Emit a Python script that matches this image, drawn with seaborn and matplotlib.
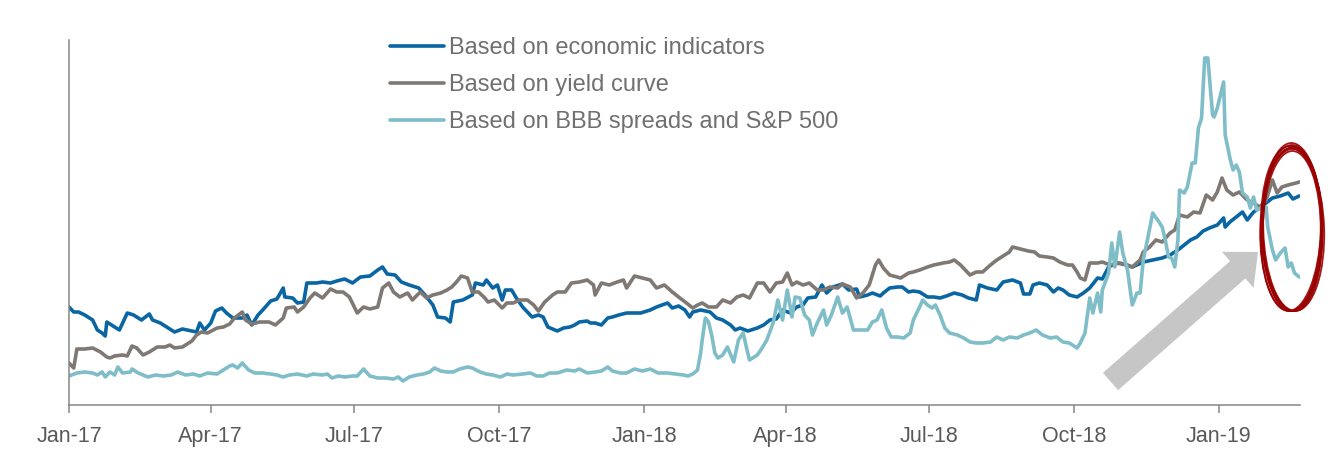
import numpy as np
import pandas as pd
import matplotlib
matplotlib.use("Agg")
import matplotlib.pyplot as plt
import matplotlib.dates as mdates
from matplotlib.patches import FancyArrow, Ellipse
from matplotlib.transforms import IdentityTransform
import seaborn as sns

# ---- data: recession-probability style indices (days since 2017-01-01, index level) ----
START = pd.Timestamp("2017-01-01")

econ_day = [0, 3, 6, 10, 15, 18, 21, 23, 24, 28, 32, 37, 41, 46, 51, 53, 58, 62, 67, 72, 78, 81, 83, 86, 90,
            93, 97, 100, 104, 110, 113, 116, 120, 123, 128, 132, 136, 137, 142, 145, 149, 151, 157, 161, 166,
            170, 175, 180, 185, 191, 196, 199, 202, 207, 211, 216, 222, 226, 231, 234, 239, 242, 244, 250, 256,
            258, 263, 265, 269, 272, 275, 277, 281, 284, 288, 291, 294, 298, 301, 304, 310, 314, 318, 321, 324,
            329, 331, 334, 338, 342, 345, 349, 354, 358, 363, 369, 373, 380, 383, 387, 391, 394, 396, 401, 407,
            411, 415, 420, 423, 426, 431, 437, 441, 445, 449, 453, 458, 462, 466, 469, 474, 478, 481, 485, 491,
            495, 500, 502, 507, 510, 515, 517, 521, 526, 529, 533, 536, 540, 545, 549, 553, 557, 562, 567, 571,
            576, 578, 583, 589, 593, 599, 604, 606, 610, 612, 616, 621, 625, 628, 631, 635, 640, 644, 648, 653,
            656, 660, 665, 669, 675, 682, 688, 694, 699, 704, 708, 712, 716, 720, 724, 729, 733, 734, 737, 741,
            745, 748, 752, 756, 760, 764, 769, 774, 777, 781]
econ_val = [98, 93, 93, 90, 85, 75, 72, 69, 83, 79, 75, 92, 90, 85, 91, 85, 82, 78, 73, 76, 74, 73, 82, 75, 82,
            94, 97, 92, 87, 87, 90, 80, 90, 95, 104, 106, 117, 108, 107, 102, 103, 122, 122, 123, 122,
            124, 126, 122, 128, 129, 135, 138, 131, 130, 123, 120, 117, 110, 100, 88, 87, 83, 103, 105, 110,
            122, 120, 125, 117, 120, 105, 115, 115, 107, 98, 93, 88, 90, 88, 78, 74, 77, 78, 80, 83,
            84, 82, 82, 80, 87, 88, 90, 92, 92, 92, 95, 98, 102, 97, 99, 95, 88, 93, 95, 93,
            87, 85, 80, 75, 77, 74, 77, 80, 85, 86, 95, 92, 98, 100, 107, 108, 120, 112, 118, 121,
            115, 116, 108, 110, 112, 109, 112, 117, 118, 118, 113, 114, 113, 108, 108, 107, 109, 112, 110, 107,
            105, 120, 117, 115, 123, 125, 122, 111, 111, 120, 122, 120, 113, 117, 115, 110, 108, 112, 117, 127,
            126, 138, 142, 141, 138, 143, 145, 147, 150, 155, 160, 165, 168, 174, 177, 180, 187, 178, 183, 188,
            193, 185, 193, 197, 202, 207, 209, 212, 206, 209]

yield_day = [0, 3, 5, 10, 15, 20, 24, 26, 29, 34, 37, 40, 43, 47, 51, 56, 61, 64, 67, 72, 78, 81, 84, 88, 94,
             98, 102, 105, 110, 112, 116, 121, 127, 131, 136, 138, 143, 145, 149, 153, 156, 161, 166, 170, 174,
             178, 183, 187, 191, 196, 199, 203, 206, 210, 215, 218, 223, 227, 231, 236, 240, 243, 246, 249, 253,
             256, 260, 264, 266, 270, 275, 278, 282, 286, 291, 295, 298, 302, 307, 310, 315, 319, 324, 329, 333,
             334, 338, 343, 348, 352, 354, 359, 364, 369, 373, 378, 383, 387, 392, 396, 399, 402, 406, 411, 415,
             420, 424, 428, 432, 437, 441, 445, 449, 453, 456, 459, 462, 466, 470, 475, 479, 483, 488, 491, 496,
             500, 504, 508, 512, 514, 517, 521, 528, 533, 536, 540, 545, 549, 555, 559, 562, 566, 569, 572, 576,
             580, 585, 589, 593, 597, 599, 604, 609, 613, 616, 621, 625, 629, 634, 637, 640, 642, 645, 648, 653,
             656, 661, 667, 672, 675, 680, 682, 686, 690, 694, 699, 702, 705, 710, 714, 718, 722, 726, 729, 732,
             735, 739, 743, 748, 752, 756, 760, 764, 767, 770, 774, 779, 781]
yield_val = [42, 37, 56, 56, 57, 53, 48, 47, 49, 50, 49, 59, 57, 50, 53, 58, 58, 60, 57, 58, 64, 70, 73, 72, 77,
             78, 81, 87, 93, 85, 81, 83, 83, 80, 87, 97, 98, 93, 98, 107, 112, 107, 116, 113, 113,
             108, 92, 98, 96, 98, 117, 122, 113, 108, 112, 105, 113, 107, 110, 112, 115, 118, 123, 129, 127,
             113, 113, 107, 103, 105, 97, 102, 102, 105, 105, 100, 94, 103, 110, 113, 113, 122, 123, 125, 120,
             110, 122, 120, 123, 125, 117, 129, 127, 125, 117, 120, 113, 108, 102, 97, 100, 102, 98, 98, 105,
             102, 108, 110, 107, 122, 122, 113, 122, 123, 132, 120, 123, 120, 122, 115, 115, 118, 117, 121, 118,
             107, 112, 120, 140, 145, 137, 130, 127, 132, 133, 135, 138, 140, 142, 143, 145, 140, 135, 130, 133,
             133, 140, 145, 149, 153, 158, 156, 154, 153, 149, 148, 147, 143, 140, 140, 133, 127, 125, 142, 142,
             143, 140, 142, 140, 138, 145, 153, 158, 165, 163, 172, 175, 190, 188, 193, 192, 210, 205, 213, 227,
             215, 210, 213, 205, 202, 198, 205, 225, 212, 218, 220, 222, 223]

bbb_day = [0, 5, 10, 15, 18, 21, 23, 26, 29, 31, 34, 39, 40, 44, 50, 55, 60, 65, 69, 74, 79, 83, 88, 94, 98,
           102, 104, 107, 110, 114, 118, 123, 128, 132, 136, 140, 145, 151, 155, 161, 164, 167, 171, 175, 180,
           183, 187, 191, 196, 201, 206, 209, 212, 216, 221, 225, 229, 232, 236, 240, 244, 248, 253, 256, 261,
           265, 269, 274, 278, 282, 288, 293, 297, 301, 305, 310, 316, 321, 324, 329, 334, 338, 342, 345, 350,
           354, 359, 364, 369, 374, 380, 385, 390, 393, 396, 399, 401, 402, 404, 406, 408, 410, 412, 415, 418,
           422, 425, 428, 430, 432, 437, 440, 443, 447, 450, 453, 456, 459, 461, 464, 467, 470, 472, 475, 479,
           481, 484, 488, 491, 494, 498, 502, 507, 510, 513, 516, 519, 522, 526, 530, 534, 536, 540, 542, 545,
           548, 550, 553, 556, 559, 564, 568, 572, 576, 580, 585, 589, 593, 597, 602, 606, 610, 614, 618, 623,
           627, 631, 635, 640, 642, 645, 648, 650, 653, 655, 656, 660, 662, 664, 667, 669, 672, 675, 678, 680,
           682, 685, 688, 692, 694, 696, 698, 700, 702, 704, 705, 708, 710, 713, 715, 717, 719, 721, 723, 726,
           727, 729, 733, 734, 737, 739, 741, 743, 745, 748, 750, 752, 754, 758, 760, 761, 764, 766, 769, 772,
           774, 776, 778, 781]
bbb_val = [29, 32, 33, 32, 30, 33, 28, 33, 30, 38, 32, 33, 36, 32, 28, 30, 29, 30, 33, 30, 31, 29, 32, 31, 35,
           39, 40, 37, 42, 35, 32, 32, 31, 30, 28, 30, 31, 29, 31, 30, 31, 27, 29, 28, 29,
           29, 36, 29, 27, 27, 26, 28, 24, 28, 30, 31, 33, 37, 34, 33, 33, 36, 38, 37, 33,
           31, 30, 28, 31, 30, 31, 32, 29, 29, 32, 32, 35, 34, 36, 32, 33, 34, 38, 34, 32,
           32, 36, 34, 36, 32, 32, 31, 30, 29, 31, 35, 52, 65, 87, 83, 70, 52, 47, 50, 58,
           43, 65, 72, 58, 45, 50, 57, 65, 82, 105, 85, 115, 88, 108, 107, 90, 85, 70, 82, 95,
           80, 90, 108, 92, 98, 75, 75, 75, 83, 85, 95, 77, 68, 68, 67, 72, 85, 98, 105, 100,
           97, 100, 90, 77, 72, 70, 67, 63, 62, 62, 63, 68, 65, 68, 67, 70, 72, 75, 70, 67,
           68, 63, 62, 57, 62, 72, 107, 92, 112, 93, 115, 132, 162, 138, 173, 152, 135, 100, 112, 112,
           145, 168, 192, 183, 178, 165, 148, 147, 138, 165, 215, 212, 218, 242, 242, 277, 287, 347, 347, 290,
           288, 297, 323, 270, 247, 235, 240, 233, 212, 208, 197, 208, 195, 198, 198, 178, 155, 145, 152, 157,
           138, 142, 132, 128]

series_names = ["Based on economic indicators", "Based on yield curve", "Based on BBB spreads and S&P 500"]
series_colors = ["#0a66a2", "#7f7873", "#7fbdc8"]

tick_months = [1, 4, 7, 10]

# ---- long-form table for seaborn ----
frames = []
for name, days, vals in zip(series_names,
                            [econ_day, yield_day, bbb_day],
                            [econ_val, yield_val, bbb_val]):
    frames.append(pd.DataFrame({
        "date": START + pd.to_timedelta(np.asarray(days), unit="D"),
        "value": vals,
        "series": name,
    }))
df = pd.concat(frames, ignore_index=True)

sns.set_theme(style="white")
plt.rcParams["font.family"] = ["Liberation Sans", "DejaVu Sans"]

W, H = 1338, 449
fig = plt.figure(figsize=(W / 100, H / 100), dpi=100)
ax = fig.add_axes([69 / W, (H - 405) / H, (1300 - 69) / W, 365 / H])

sns.lineplot(data=df, x="date", y="value", hue="series", hue_order=series_names,
             palette=series_colors, linewidth=2.6, estimator=None, sort=True, ax=ax)

ax.set_xlim(START, START + pd.Timedelta(days=781.5))
ax.set_ylim(0, 365)
ax.set_xlabel("")
ax.set_ylabel("")
ax.set_yticks([])

ax.xaxis.set_major_locator(mdates.MonthLocator(bymonth=tick_months, bymonthday=1))
ax.xaxis.set_major_formatter(mdates.DateFormatter("%b-%y"))
ax.tick_params(axis="x", direction="out", length=6, width=1.1, color="#868686",
               labelsize=15.5, labelcolor="#595959", pad=9, bottom=True)

for side in ["top", "right"]:
    ax.spines[side].set_visible(False)
for side in ["left", "bottom"]:
    ax.spines[side].set_color("#868686")
    ax.spines[side].set_linewidth(1.1)

# legend without frame, upper middle
handles, labels = ax.get_legend_handles_labels()
leg = ax.legend(handles, labels, loc="upper left",
                bbox_to_anchor=(390 / W, (H - 37) / H), bbox_transform=fig.transFigure,
                frameon=False, fontsize=17, handlelength=2.3, handletextpad=0.2,
                labelspacing=0.64, borderpad=0, borderaxespad=0)
for txt in leg.get_texts():
    txt.set_color("#707070")
for ln in leg.get_lines():
    ln.set_linewidth(2.6)

# broad gray arrow pointing up-right
arrow = FancyArrow(1110.5, H - 381.5, 147.5, 129.5, width=23, head_width=48, head_length=27,
                   length_includes_head=True, color="#c6c6c6", linewidth=0,
                   transform=IdentityTransform(), zorder=1)
fig.patches.append(arrow)

# hand-drawn red ring around the latest readings
ring_specs = [
    (0.0, 0.0, 61, 166, 0.0),
    (0.8, -1.5, 59, 163, 1.5),
    (-0.8, -2.0, 62, 162, -1.2),
    (0.4, 1.0, 60, 168, 0.8),
    (-0.3, -3.0, 58, 160, -0.6),
    (0.6, -0.5, 63, 165, 2.0),
    (-1.0, -1.0, 60, 164, -2.0),
]
for dx, dy, w, h, ang in ring_specs:
    fig.patches.append(Ellipse((1292 + dx, H - 228 + dy), w, h, angle=ang, fill=False,
                               edgecolor="#990000", linewidth=1.3, alpha=0.9,
                               transform=IdentityTransform(), zorder=5))

fig.savefig("out.png", dpi=100)
